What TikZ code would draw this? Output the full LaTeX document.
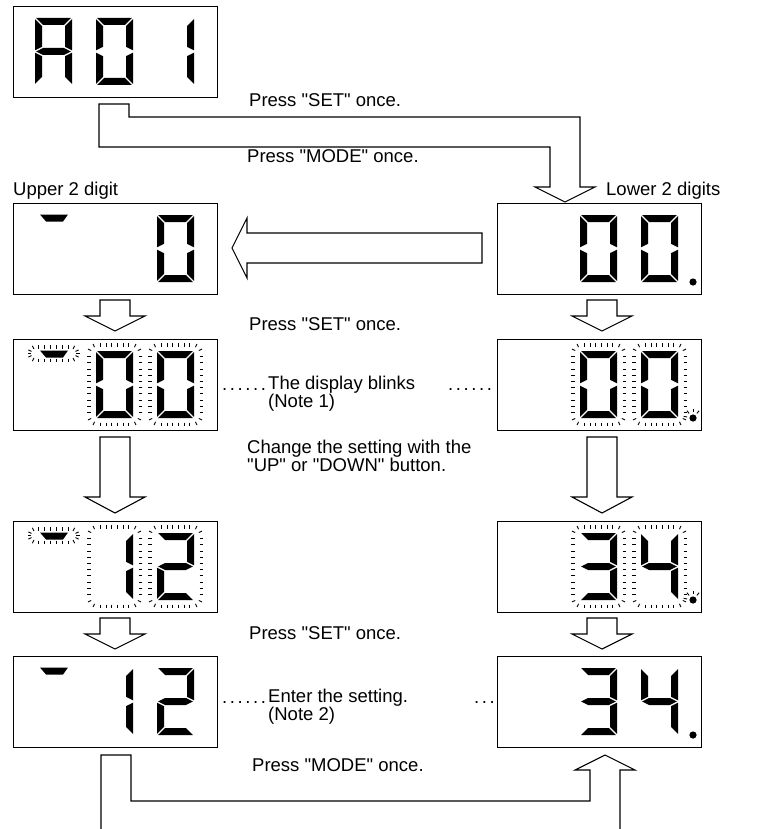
\documentclass[tikz,border=0pt]{standalone}
\usepackage{fontspec}
\setmainfont{Liberation Sans}[Ligatures=TeXOff]
\newcommand\qq{"}
\newcommand\dd{.\kern2.6pt}
\tikzset{
  lcd/.style={draw, line width=1.3pt, anchor=north west, minimum width=204pt, minimum height=91pt, inner sep=0pt},
  tck/.style={line width=0.9pt},
  harrow/.style={draw, line width=1.1pt, fill=white, line join=miter},
  lbl/.style={font=\fontsize{18.5}{18.5}\selectfont, inner sep=0pt, anchor=base west},
  lbl2/.style={font=\fontsize{18.5}{18}\selectfont, inner sep=0pt, anchor=north west, align=left},
}
% segments of one digit (local coords, y down), width 37, height 67
\newcommand\SEGa{(1.2,0) -- (35.8,0) -- (28.8,7) -- (8.2,7) -- cycle}
\newcommand\SEGb{(37,1.2) -- (30,8.2) -- (30,28.8) -- (37,32.3) -- cycle}
\newcommand\SEGc{(37,34.7) -- (30,38.2) -- (30,58.8) -- (37,65.8) -- cycle}
\newcommand\SEGd{(1.2,67) -- (35.8,67) -- (28.8,60) -- (8.2,60) -- cycle}
\newcommand\SEGe{(0,34.7) -- (7,38.2) -- (7,58.8) -- (0,65.8) -- cycle}
\newcommand\SEGf{(0,1.2) -- (7,8.2) -- (7,28.8) -- (0,32.3) -- cycle}
\newcommand\SEGg{(1.2,33.5) -- (8.2,30) -- (28.8,30) -- (35.8,33.5) -- (28.8,37) -- (8.2,37) -- cycle}
\newcommand\lcddigit[3]{%
  \begin{scope}[shift={(#1,#2)}]
    \foreach \s in {#3}{\expandafter\fill\csname SEG\s\endcsname;}
  \end{scope}}
% ring of blink ticks: X Y W H R ntop nside
\newcommand\ring[7]{%
  \foreach \i in {1,...,#6}{%
    \pgfmathsetmacro\rxx{#1+#5+(#3-2*#5)*(\i-0.5)/#6}%
    \draw[tck] (\rxx,{#2}) -- ++(0,-3.5);
    \draw[tck] (\rxx,{#2+#4}) -- ++(0,3.5);
  }%
  \foreach \j in {1,...,#7}{%
    \pgfmathsetmacro\ryy{#2+#5+(#4-2*#5)*(\j-0.5)/#7}%
    \draw[tck] ({#1},\ryy) -- ++(-3.5,0);
    \draw[tck] ({#1+#3},\ryy) -- ++(3.5,0);
  }%
  \foreach \a in {205,245}{\draw[tck,shift={({#1+#5},{#2+#5})}] (\a:{#5}) -- (\a:{#5+3.5});}%
  \foreach \a in {295,335}{\draw[tck,shift={({#1+#3-#5},{#2+#5})}] (\a:{#5}) -- (\a:{#5+3.5});}%
  \foreach \a in {25,65}{\draw[tck,shift={({#1+#3-#5},{#2+#4-#5})}] (\a:{#5}) -- (\a:{#5+3.5});}%
  \foreach \a in {115,155}{\draw[tck,shift={({#1+#5},{#2+#4-#5})}] (\a:{#5}) -- (\a:{#5+3.5});}%
}
\newcommand\digitring[2]{\ring{#1-5.5}{#2-4.5}{48}{76}{7}{6}{10}}
\newcommand\segring[2]{\ring{#1+18}{#2+9.5}{45}{10}{5}{6}{1}}
\newcommand\firstseg[2]{\fill (#1+27,#2+11.5) -- (#1+55,#2+11.5) -- (#1+50,#2+18.5) -- (#1+33,#2+18.5) -- cycle;}
\newcommand\lcddot[2]{\fill (#1+196,#2+79) circle (3.6);}
\newcommand\dotring[2]{\foreach \a in {190,230,270,310}{\draw[tck,shift={(#1+196,#2+79)}] (\a:6) -- (\a:9.5);}}
\begin{document}
\begin{tikzpicture}[x=1pt,y=-1pt]
\useasboundingbox (0,0) rectangle (781,829);
\fill[white] (0,0) rectangle (781,829);

% boxes
\node[lcd] (b1) at (13,6) {};
\node[lcd] (l1) at (13,203) {};
\node[lcd] (l3) at (13,339) {};
\node[lcd] (l4) at (13,521) {};
\node[lcd] (l5) at (13,656) {};
\node[lcd] (r1) at (497,203) {};
\node[lcd] (r2) at (497,339) {};
\node[lcd] (r3) at (497,521) {};
\node[lcd] (r4) at (497,656) {};

% box 1: A01
\lcddigit{35}{18}{a,b,c,e,f,g}
\lcddigit{96}{18}{a,b,c,d,e,f}
\lcddigit{157}{18}{b,c}

% L1: upper, "0"
\firstseg{13}{203}
\lcddigit{157}{215}{a,b,c,d,e,f}
% R1: "00."
\lcddigit{580}{215}{a,b,c,d,e,f}
\lcddigit{641}{215}{a,b,c,d,e,f}
\lcddot{497}{203}

% L3: blinking 00
\firstseg{13}{339}\segring{13}{339}
\lcddigit{96}{351}{a,b,c,d,e,f}\digitring{96}{351}
\lcddigit{157}{351}{a,b,c,d,e,f}\digitring{157}{351}
% R2: blinking 00.
\lcddigit{580}{351}{a,b,c,d,e,f}\digitring{580}{351}
\lcddigit{641}{351}{a,b,c,d,e,f}\digitring{641}{351}
\lcddot{497}{339}\dotring{497}{339}

% L4: blinking 12
\firstseg{13}{521}\segring{13}{521}
\lcddigit{96}{533}{b,c}\digitring{96}{533}
\lcddigit{157}{533}{a,b,g,e,d}\digitring{157}{533}
% R3: blinking 34.
\lcddigit{580}{533}{a,b,g,c,d}\digitring{580}{533}
\lcddigit{641}{533}{f,b,g,c}\digitring{641}{533}
\lcddot{497}{521}\dotring{497}{521}

% L5: 12
\firstseg{13}{656}
\lcddigit{96}{668}{b,c}
\lcddigit{157}{668}{a,b,g,e,d}
% R4: 34.
\lcddigit{580}{668}{a,b,g,c,d}
\lcddigit{641}{668}{f,b,g,c}
\lcddot{497}{656}

% arrows
\draw[harrow] (99,104) -- (129,104) -- (129,117) -- (580,117) -- (580,187) -- (595,187)
  -- (565,202) -- (535,187) -- (550,187) -- (550,147) -- (99,147) -- cycle;
\draw[harrow] (482,233) -- (482,263) -- (247,263) -- (247,278) -- (232,248) -- (247,218) -- (247,233) -- cycle;
\foreach \cx in {115,602}{
  \draw[harrow] (\cx-15,300) -- (\cx+15,300) -- (\cx+15,316) -- (\cx+30,316) -- (\cx,331) -- (\cx-30,316) -- (\cx-15,316) -- cycle;
  \draw[harrow] (\cx-15,437) -- (\cx+15,437) -- (\cx+15,497) -- (\cx+30,497) -- (\cx,513) -- (\cx-30,497) -- (\cx-15,497) -- cycle;
  \draw[harrow] (\cx-15,618) -- (\cx+15,618) -- (\cx+15,634) -- (\cx+30,634) -- (\cx,649) -- (\cx-30,634) -- (\cx-15,634) -- cycle;
}
\draw[harrow, fill=none] (101,829) -- (101,755) -- (131,755) -- (131,801) -- (590,801) -- (590,770)
  -- (575,770) -- (605,755) -- (635,770) -- (620,770) -- (620,829);

% texts
\node[lbl] (t1) at (249,107) {Press \qq SET\qq\ once.};
\node[lbl] (t2) at (247,163) {Press \qq MODE\qq\ once.};
\node[lbl] (t3) at (13,196) {Upper 2 digit};
\node[lbl] (t4) at (606,196) {Lower 2 digits};
\node[lbl] (t5) at (249,330) {Press \qq SET\qq\ once.};
\node[lbl] (d1) at (222,390) {\dd\dd\dd\dd\dd.};
\node[lbl2] (t6) at (268,376) {The display blinks\\(Note 1)};
\node[lbl] (d2) at (448,390) {\dd\dd\dd\dd\dd.};
\node[lbl2] (t7) at (247,440) {Change the setting with the\\\qq UP\qq\ or \qq DOWN\qq\ button.};
\node[lbl] (t8) at (249,639) {Press \qq SET\qq\ once.};
\node[lbl] (d3) at (222,703) {\dd\dd\dd\dd\dd.};
\node[lbl2] (t9) at (268,689) {Enter the setting.\\(Note 2)};
\node[lbl] (d4) at (474,703) {\dd\dd.};
\node[lbl] (t10) at (252,771) {Press \qq MODE\qq\ once.};
\end{tikzpicture}
\end{document}
